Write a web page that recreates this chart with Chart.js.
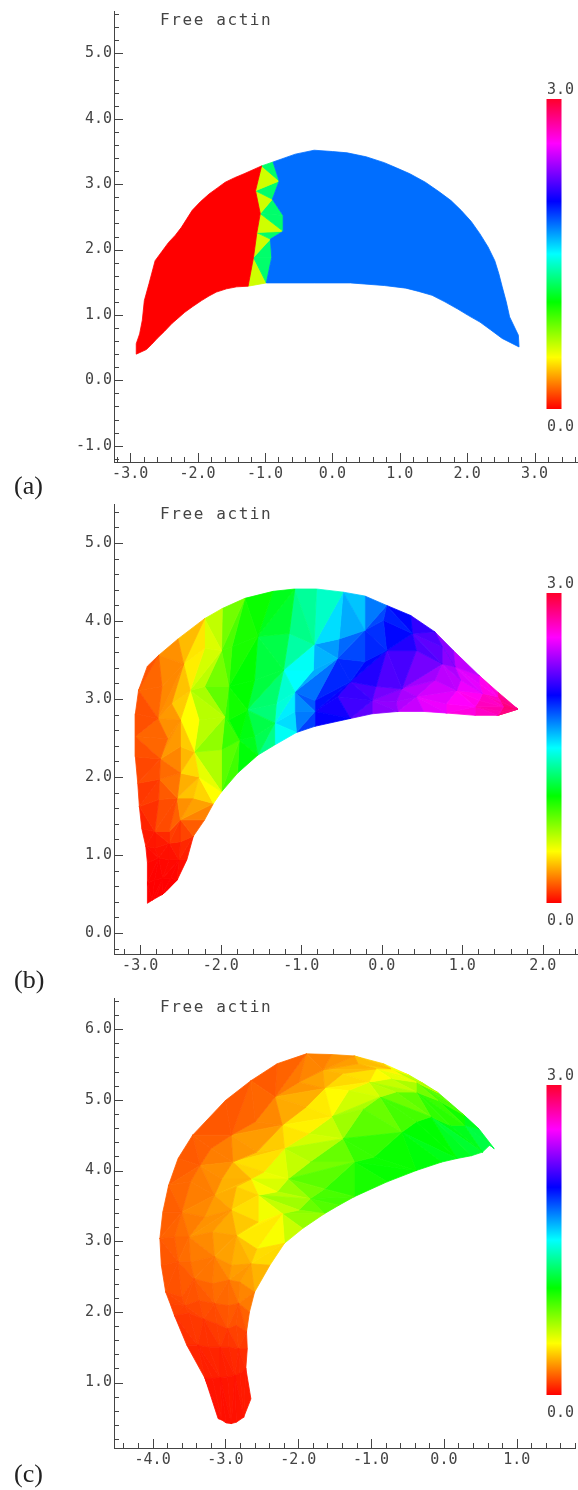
<!DOCTYPE html>
<html>
<head>
<meta charset="utf-8">
<title>Free actin</title>
<script src="https://cdn.jsdelivr.net/npm/chart.js@4/dist/chart.umd.min.js"></script>
<style>
    html, body { margin: 0; background: #fff; }
    #page { position: relative; width: 578px; height: 1490px; overflow: hidden; }
    #page canvas { position: absolute; }
    .plot-title { position: absolute; left: 160px; font: 16px "DejaVu Sans Mono", monospace; letter-spacing: 1.6px; color: #444; line-height: 20px; white-space: nowrap; }
    .panel-tag { position: absolute; left: 14px; font: 26px "Liberation Serif", serif; color: #222; line-height: 30px; }
</style>
</head>
<body>
<div id="page">
    <canvas id="chartA" style="left:0;top:0"></canvas>
    <canvas id="barA" style="left:534px;top:81px"></canvas>
    <div class="plot-title" style="top:10px">Free actin</div>
    <div class="panel-tag" style="top:471px">(a)</div>

    <canvas id="chartB" style="left:0;top:490px"></canvas>
    <canvas id="barB" style="left:534px;top:575px"></canvas>
    <div class="plot-title" style="top:504px">Free actin</div>
    <div class="panel-tag" style="top:965px">(b)</div>

    <canvas id="chartC" style="left:0;top:985px"></canvas>
    <canvas id="barC" style="left:534px;top:1067px"></canvas>
    <div class="plot-title" style="top:997px">Free actin</div>
    <div class="panel-tag" style="top:1459px">(c)</div>
</div>

<script>
// Colour scale: value -> hue
const scaleValues = [0, 0.5, 1.035, 1.5, 2.01, 2.57, 3];
const scaleHues = [0, 60, 120, 180, 240, 300, 350];

// Panel (a): two flat regions and the strip of triangles between them
const regionRedA = [[-2.91, 0.40], [-2.91, 0.56], [-2.86, 0.71], [-2.82, 0.92], [-2.79, 1.22], [-2.72, 1.48], [-2.63, 1.83], [-2.53, 1.97], [-2.43, 2.11], [-2.33, 2.22], [-2.24, 2.34], [-2.16, 2.47], [-2.08, 2.60], [-1.96, 2.73], [-1.83, 2.85], [-1.71, 2.94], [-1.59, 3.03], [-1.45, 3.10], [-1.31, 3.16], [-1.05, 3.28], [-1.14, 2.90], [-1.07, 2.55], [-1.12, 2.26], [-1.17, 1.88], [-1.25, 1.44], [-1.42, 1.43], [-1.57, 1.40], [-1.72, 1.35], [-1.83, 1.29], [-1.94, 1.22], [-2.07, 1.13], [-2.19, 1.04], [-2.29, 0.95], [-2.38, 0.87], [-2.49, 0.75], [-2.60, 0.64], [-2.68, 0.55], [-2.76, 0.47]];
const regionBlueA = [[-0.88, 3.34], [-0.55, 3.46], [-0.27, 3.52], [0, 3.50], [0.22, 3.48], [0.5, 3.42], [0.77, 3.33], [0.95, 3.25], [1.15, 3.16], [1.38, 3.03], [1.59, 2.88], [1.76, 2.75], [1.91, 2.60], [2.06, 2.43], [2.19, 2.24], [2.31, 2.04], [2.41, 1.83], [2.47, 1.63], [2.52, 1.43], [2.58, 1.2], [2.63, 0.97], [2.76, 0.69], [2.77, 0.51], [2.52, 0.64], [2.35, 0.77], [2.19, 0.89], [2.02, 0.99], [1.86, 1.09], [1.67, 1.2], [1.48, 1.30], [1.28, 1.36], [1.09, 1.41], [0.77, 1.45], [0.27, 1.49], [-0.27, 1.49], [-0.98, 1.49], [-0.90, 1.88], [-0.92, 2.16], [-0.73, 2.28], [-0.73, 2.52], [-0.89, 2.77], [-0.79, 3.05]];
const regionRedValue = 0;
const regionBlueValue = 1.79;
const stripTrianglesA = [
    [[-1.05, 3.28], [-0.88, 3.34], [-0.79, 3.05], 1.23],
    [[-1.05, 3.28], [-0.79, 3.05], [-1.14, 2.90], 0.6],
    [[-1.14, 2.90], [-0.79, 3.05], [-0.89, 2.77], 1.23],
    [[-1.14, 2.90], [-0.89, 2.77], [-1.07, 2.55], 0.6],
    [[-0.89, 2.77], [-0.73, 2.52], [-1.07, 2.55], 1.23],
    [[-1.07, 2.55], [-0.73, 2.52], [-0.73, 2.28], 1.23],
    [[-1.07, 2.55], [-0.73, 2.28], [-1.12, 2.26], 0.6],
    [[-1.12, 2.26], [-0.73, 2.28], [-0.92, 2.16], 1.23],
    [[-1.12, 2.26], [-0.92, 2.16], [-1.17, 1.88], 0.6],
    [[-0.92, 2.16], [-0.90, 1.88], [-1.17, 1.88], 1.23],
    [[-1.17, 1.88], [-0.90, 1.88], [-0.98, 1.49], 1.23],
    [[-1.17, 1.88], [-0.98, 1.49], [-1.25, 1.44], 0.6]
];

// Panel (b): mesh rows of [x, y, value]
const bodyMeshB = [
    [[-2.91, 3.42, .15], [-3.02, 3.11, .15], [-3.06, 2.81, .12], [-3.06, 2.52, .15], [-3.06, 2.26, .12], [-3.03, 1.92, .1]],
    [[-2.77, 3.56, .2], [-2.73, 3.16, .25], [-2.78, 2.75, .2], [-2.66, 2.49, .25], [-2.75, 2.23, .2], [-2.76, 1.97, .15]],
    [[-2.53, 3.77, .3], [-2.46, 3.45, .35], [-2.61, 2.94, .3], [-2.50, 2.73, .4], [-2.50, 2.39, .3], [-2.50, 2.05, .28]],
    [[-2.20, 4.03, .45], [-2.20, 3.65, .55], [-2.38, 3.11, .5], [-2.27, 2.73, .6], [-2.33, 2.32, .5], [-2.27, 2.00, .5]],
    [[-1.98, 4.16, .72], [-1.99, 3.62, .72], [-2.20, 3.16, .7], [-1.95, 2.77, .85], [-1.99, 2.35, .85], [-1.99, 1.81, .65]],
    [[-1.70, 4.29, .95], [-1.86, 3.67, .95], [-1.90, 3.16, .95], [-1.90, 2.73, 1.0], [-1.77, 2.47, 1.05], [-1.79, 2.05, 1.0]],
    [[-1.35, 4.38, 1.05], [-1.54, 3.80, 1.05], [-1.58, 3.24, 1.1], [-1.67, 2.86, 1.05], [-1.58, 2.52, 1.1], [-1.54, 2.28, 1.1]],
    [[-1.08, 4.41, 1.15], [-1.15, 3.84, 1.15], [-1.22, 3.37, 1.3], [-1.31, 2.94, 1.35], [-1.33, 2.69, 1.35], [-1.33, 2.41, 1.4]],
    [[-0.81, 4.41, 1.25], [-0.84, 3.70, 1.55], [-0.85, 3.37, 1.6], [-1.08, 3.09, 1.6], [-1.08, 2.84, 1.65], [-1.06, 2.57, 1.7]],
    [[-0.48, 4.37, 1.4], [-0.53, 3.77, 1.75], [-0.55, 3.52, 1.8], [-0.83, 2.98, 1.95], [-0.83, 2.84, 1.95], [-0.83, 2.65, 2.0]],
    [[-0.21, 4.32, 1.6], [-0.21, 3.88, 1.85], [-0.21, 3.48, 1.95], [-0.39, 3.22, 2.05], [-0.55, 3.03, 2.1], [-0.39, 2.75, 2.1]],
    [[0.06, 4.20, 1.85], [0.02, 4.01, 1.9], [0.06, 3.62, 2.0], [-0.07, 3.16, 2.2], [-0.12, 2.98, 2.25], [-0.12, 2.81, 2.3]],
    [[0.36, 4.07, 2.05], [0.38, 3.84, 2.1], [0.43, 3.62, 2.15], [0.25, 3.13, 2.35], [0.18, 2.96, 2.35], [0.20, 2.84, 2.4]],
    [[0.66, 3.86, 2.2], [0.75, 3.67, 2.25], [0.75, 3.45, 2.3], [0.66, 3.24, 2.45], [0.43, 3.03, 2.45], [0.52, 2.84, 2.5]],
    [[0.89, 3.62, 2.35], [0.91, 3.41, 2.4], [0.98, 3.24, 2.48], [0.93, 3.11, 2.52], [0.80, 2.94, 2.55], [0.80, 2.82, 2.6]],
    [[1.21, 3.30, 2.55], [1.21, 3.20, 2.55], [1.25, 3.07, 2.6], [1.21, 2.98, 2.65], [1.16, 2.90, 2.65], [1.16, 2.79, 2.65]],
    [[1.44, 3.09, 2.7], [1.44, 3.03, 2.7], [1.48, 2.96, 2.75], [1.51, 2.90, 2.8], [1.48, 2.84, 2.75], [1.44, 2.79, 2.75]],
    [[1.69, 2.87, 2.95], [1.69, 2.87, 2.95], [1.69, 2.87, 2.95], [1.69, 2.87, 2.95], [1.69, 2.87, 2.95], [1.69, 2.87, 2.95]]
];
const tailMeshB = [
    [[-3.03, 1.92, .1], [-2.76, 1.97, .15], [-2.50, 2.05, .28], [-2.27, 2.00, .5], [-1.99, 1.81, .65]],
    [[-3.01, 1.62, .08], [-2.77, 1.71, .13], [-2.54, 1.73, .25], [-2.34, 1.73, .4], [-2.09, 1.66, .35]],
    [[-2.98, 1.34, .05], [-2.82, 1.30, .07], [-2.64, 1.30, .12], [-2.50, 1.45, .2], [-2.20, 1.45, .22]],
    [[-2.93, 1.11, .03], [-2.82, 1.09, .03], [-2.64, 1.15, .05], [-2.50, 1.17, .08], [-2.34, 1.24, .12]],
    [[-2.91, 0.90, .01], [-2.77, 0.96, .02], [-2.64, 0.94, .02], [-2.52, 0.94, .03], [-2.42, 0.94, .04]],
    [[-2.91, 0.64, 0], [-2.82, 0.68, 0], [-2.72, 0.70, 0], [-2.62, 0.70, 0], [-2.54, 0.68, 0]],
    [[-2.91, 0.38, 0], [-2.85, 0.42, 0], [-2.80, 0.45, 0], [-2.73, 0.49, 0], [-2.68, 0.53, 0]]
];

// Panel (c): crescent mesh, tail to leading tip, outer edge to inner edge
const meshC = [
    [[-3.10, 0.49, .02], [-3.05, 0.47, .02], [-2.99, 0.43, .02], [-2.92, 0.42, .02], [-2.85, 0.44, .02], [-2.75, 0.51, .03], [-2.65, 0.77, .05]],
    [[-3.28, 1.06, .05], [-3.18, 1.06, .05], [-3.07, 1.07, .05], [-2.97, 1.08, .05], [-2.87, 1.10, .06], [-2.80, 1.13, .06], [-2.72, 1.20, .07]],
    [[-3.53, 1.53, .08], [-3.38, 1.53, .08], [-3.23, 1.50, .08], [-3.07, 1.50, .08], [-2.95, 1.50, .08], [-2.82, 1.48, .1], [-2.70, 1.48, .1]],
    [[-3.70, 1.95, .12], [-3.50, 1.98, .12], [-3.30, 1.90, .13], [-3.12, 1.83, .13], [-2.97, 1.76, .14], [-2.85, 1.81, .14], [-2.71, 1.72, .15]],
    [[-3.76, 2.12, .13], [-3.56, 2.09, .13], [-3.36, 2.16, .16], [-3.15, 2.12, .17], [-2.96, 2.09, .19], [-2.82, 2.12, .2], [-2.67, 2.00, .22]],
    [[-3.82, 2.28, .15], [-3.60, 2.21, .15], [-3.43, 2.47, .2], [-3.18, 2.40, .22], [-2.95, 2.45, .25], [-2.80, 2.42, .28], [-2.60, 2.28, .3]],
    [[-3.88, 2.66, .16], [-3.65, 2.71, .18], [-3.48, 2.71, .22], [-3.15, 2.78, .27], [-2.92, 2.66, .32], [-2.65, 2.68, .36], [-2.39, 2.66, .4]],
    [[-3.90, 3.04, .17], [-3.70, 3.06, .19], [-3.50, 3.06, .24], [-3.18, 3.13, .3], [-2.85, 3.08, .36], [-2.57, 2.89, .42], [-2.19, 2.97, .52]],
    [[-3.86, 3.41, .17], [-3.60, 3.41, .22], [-3.29, 3.34, .28], [-2.92, 3.44, .34], [-2.55, 3.27, .48], [-2.22, 3.39, .6], [-1.94, 3.18, .72]],
    [[-3.78, 3.79, .17], [-3.48, 3.84, .22], [-3.15, 3.65, .3], [-2.85, 3.77, .38], [-2.55, 3.65, .5], [-1.99, 3.44, .78], [-1.64, 3.39, .85]],
    [[-3.65, 4.17, .16], [-3.35, 4.07, .22], [-3.05, 3.88, .3], [-2.65, 3.88, .44], [-2.29, 3.70, .62], [-1.84, 3.60, .82], [-1.44, 3.51, .92]],
    [[-3.45, 4.50, .15], [-3.20, 4.31, .2], [-2.90, 4.12, .32], [-2.47, 3.98, .5], [-2.14, 3.88, .68], [-1.64, 3.74, .88], [-1.23, 3.63, .95]],
    [[-3.00, 4.99, .15], [-2.92, 4.50, .22], [-2.57, 4.26, .35], [-2.19, 4.31, .5], [-1.84, 4.12, .7], [-1.23, 4.12, .98], [-0.78, 3.84, 1.03]],
    [[-2.65, 5.27, .15], [-2.59, 4.69, .22], [-2.22, 4.64, .35], [-1.86, 4.52, .5], [-1.39, 4.45, .78], [-0.96, 4.19, 1.0], [-0.38, 4.00, 1.05]],
    [[-2.29, 5.51, .15], [-2.32, 5.04, .23], [-1.89, 4.90, .42], [-1.54, 4.76, .58], [-1.11, 4.87, .75], [-0.58, 4.54, 1.0], [-0.03, 4.12, 1.1]],
    [[-1.89, 5.65, .2], [-1.99, 5.25, .28], [-1.64, 5.16, .38], [-1.31, 5.13, .52], [-0.88, 5.04, .7], [-0.38, 4.69, .98], [0.18, 4.17, 1.13]],
    [[-1.54, 5.64, .26], [-1.66, 5.42, .3], [-1.39, 5.37, .38], [-1.03, 5.25, .52], [-0.66, 5.11, .72], [-0.18, 4.76, 1.0], [0.38, 4.21, 1.16]],
    [[-1.23, 5.62, .3], [-1.18, 5.51, .33], [-0.93, 5.44, .42], [-0.73, 5.30, .55], [-0.38, 5.11, .8], [0.08, 4.64, 1.0], [0.53, 4.26, 1.2]],
    [[-0.83, 5.51, .42], [-0.73, 5.44, .48], [-0.58, 5.35, .55], [-0.38, 5.25, .68], [-0.08, 4.99, .9], [0.28, 4.64, 1.05], [0.63, 4.36, 1.22]],
    [[-0.48, 5.35, .65], [-0.28, 5.23, .75], [-0.08, 5.10, .88], [0.10, 4.94, .95], [0.28, 4.78, 1.05], [0.48, 4.59, 1.15], [0.69, 4.31, 1.25]]
];

const tickColor = '#444';
const tickFont = { family: '"DejaVu Sans Mono", monospace', size: 15 };

function valueToColor(value) {
    let i = 0;
    while (i < scaleValues.length - 2 && value > scaleValues[i + 1]) i++;
    const t = (value - scaleValues[i]) / (scaleValues[i + 1] - scaleValues[i]);
    const hue = scaleHues[i] + t * (scaleHues[i + 1] - scaleHues[i]);
    return `hsl(${hue}, 100%, 50%)`;
}

// One filled, closed line dataset per mesh cell
function cellDataset(corners, value) {
    const color = valueToColor(value);
    const points = corners.map(c => ({ x: c[0], y: c[1] }));
    points.push(points[0]);
    return {
        data: points,
        showLine: true,
        fill: 'shape',
        tension: 0,
        pointRadius: 0,
        borderWidth: 0.8,
        borderColor: color,
        backgroundColor: color
    };
}

function meshDatasets(rows) {
    const sets = [];
    for (let r = 0; r < rows.length - 1; r++) {
        for (let j = 0; j < rows[r].length - 1; j++) {
            const a = rows[r][j], b = rows[r][j + 1], c = rows[r + 1][j + 1], d = rows[r + 1][j];
            const tris = (r + j) % 2 ? [[a, b, c], [a, c, d]] : [[a, b, d], [b, c, d]];
            tris.forEach(t => sets.push(cellDataset(t, (t[0][2] + t[1][2] + t[2][2]) / 3)));
        }
    }
    return sets;
}

function isWhole(value) {
    return Math.abs(value - Math.round(value)) < 1e-6;
}

// Inward axis ticks: long at whole units, short at every 0.2
const inwardTicks = {
    id: 'inwardTicks',
    afterDraw(chart) {
        const { ctx, chartArea, scales } = chart;
        ctx.save();
        ctx.strokeStyle = tickColor;
        ctx.lineWidth = 1;
        ctx.beginPath();
        scales.x.ticks.forEach(t => {
            const p = Math.round(scales.x.getPixelForValue(t.value)) + 0.5;
            ctx.moveTo(p, chartArea.bottom);
            ctx.lineTo(p, chartArea.bottom - (isWhole(t.value) ? 9 : 5));
        });
        scales.y.ticks.forEach(t => {
            const p = Math.round(scales.y.getPixelForValue(t.value)) + 0.5;
            ctx.moveTo(chartArea.left, p);
            ctx.lineTo(chartArea.left + (isWhole(t.value) ? 9 : 5), p);
        });
        ctx.stroke();
        ctx.restore();
    }
};

function makePanel(id, width, height, datasets, range, topPad, axisHeight) {
    const canvas = document.getElementById(id);
    canvas.width = width;
    canvas.height = height;
    canvas.style.width = width + 'px';
    canvas.style.height = height + 'px';
    const tickLabel = v => (isWhole(v) ? v.toFixed(1) : '');
    return new Chart(canvas, {
        type: 'scatter',
        data: { datasets },
        plugins: [inwardTicks],
        options: {
            responsive: false,
            animation: false,
            layout: { padding: { top: topPad, right: 0, left: 0, bottom: 0 } },
            plugins: { legend: { display: false }, tooltip: { enabled: false } },
            scales: {
                x: {
                    type: 'linear', min: range[0], max: range[1],
                    afterFit: s => { s.height = axisHeight; },
                    grid: { display: false, drawTicks: false },
                    border: { display: true, color: tickColor, width: 1 },
                    ticks: { stepSize: 0.2, includeBounds: false, autoSkip: false, maxRotation: 0, padding: 3, color: tickColor, font: tickFont, callback: tickLabel }
                },
                y: {
                    type: 'linear', min: range[2], max: range[3],
                    afterFit: s => { s.width = 114; },
                    grid: { display: false, drawTicks: false },
                    border: { display: true, color: tickColor, width: 1 },
                    ticks: { stepSize: 0.2, includeBounds: false, autoSkip: false, padding: 2, color: tickColor, font: tickFont, callback: tickLabel }
                }
            }
        }
    });
}

// Colour bar: a single floating bar from 0.0 to 3.0 with the scale as gradient
function makeColorBar(id) {
    const canvas = document.getElementById(id);
    canvas.width = 40;
    canvas.height = 355;
    canvas.style.width = '40px';
    canvas.style.height = '355px';
    const gradientFill = (c) => {
        const { ctx, chartArea } = c.chart;
        if (!chartArea) return '#f00';
        const g = ctx.createLinearGradient(0, chartArea.bottom, 0, chartArea.top);
        scaleValues.forEach((v, i) => g.addColorStop(v / 3, `hsl(${scaleHues[i]}, 100%, 50%)`));
        return g;
    };
    const barFont = { ...tickFont, weight: 'normal' };
    return new Chart(canvas, {
        type: 'bar',
        data: { labels: ['Free actin'], datasets: [{ data: [[0, 3]], backgroundColor: gradientFill, barPercentage: 0.375, categoryPercentage: 1 }] },
        options: {
            responsive: false,
            animation: false,
            plugins: {
                legend: { display: false },
                tooltip: { enabled: false },
                title: { display: true, align: 'end', text: '3.0', color: tickColor, font: barFont, padding: 0 },
                subtitle: { display: true, position: 'bottom', align: 'end', text: '0.0', color: tickColor, font: barFont, padding: { top: 9, bottom: 0 } }
            },
            scales: {
                x: { display: false },
                y: { display: false, min: 0, max: 3 }
            }
        }
    });
}

const datasetsA = [
    cellDataset(regionRedA, regionRedValue),
    cellDataset(regionBlueA, regionBlueValue),
    ...stripTrianglesA.map(t => cellDataset(t.slice(0, 3), t[3]))
];
const datasetsB = [...meshDatasets(bodyMeshB), ...meshDatasets(tailMeshB)];
const datasetsC = meshDatasets(meshC);

makePanel('chartA', 578, 490, datasetsA, [-3.24, 3.64, -1.25, 5.65], 10, 28);
makePanel('chartB', 578, 495, datasetsB, [-3.325, 2.43, -0.27, 5.5], 14, 31);
makePanel('chartC', 578, 505, datasetsC, [-4.53, 1.81, 0.075, 6.44], 13, 42);

makeColorBar('barA');
makeColorBar('barB');
makeColorBar('barC');
</script>
</body>
</html>
